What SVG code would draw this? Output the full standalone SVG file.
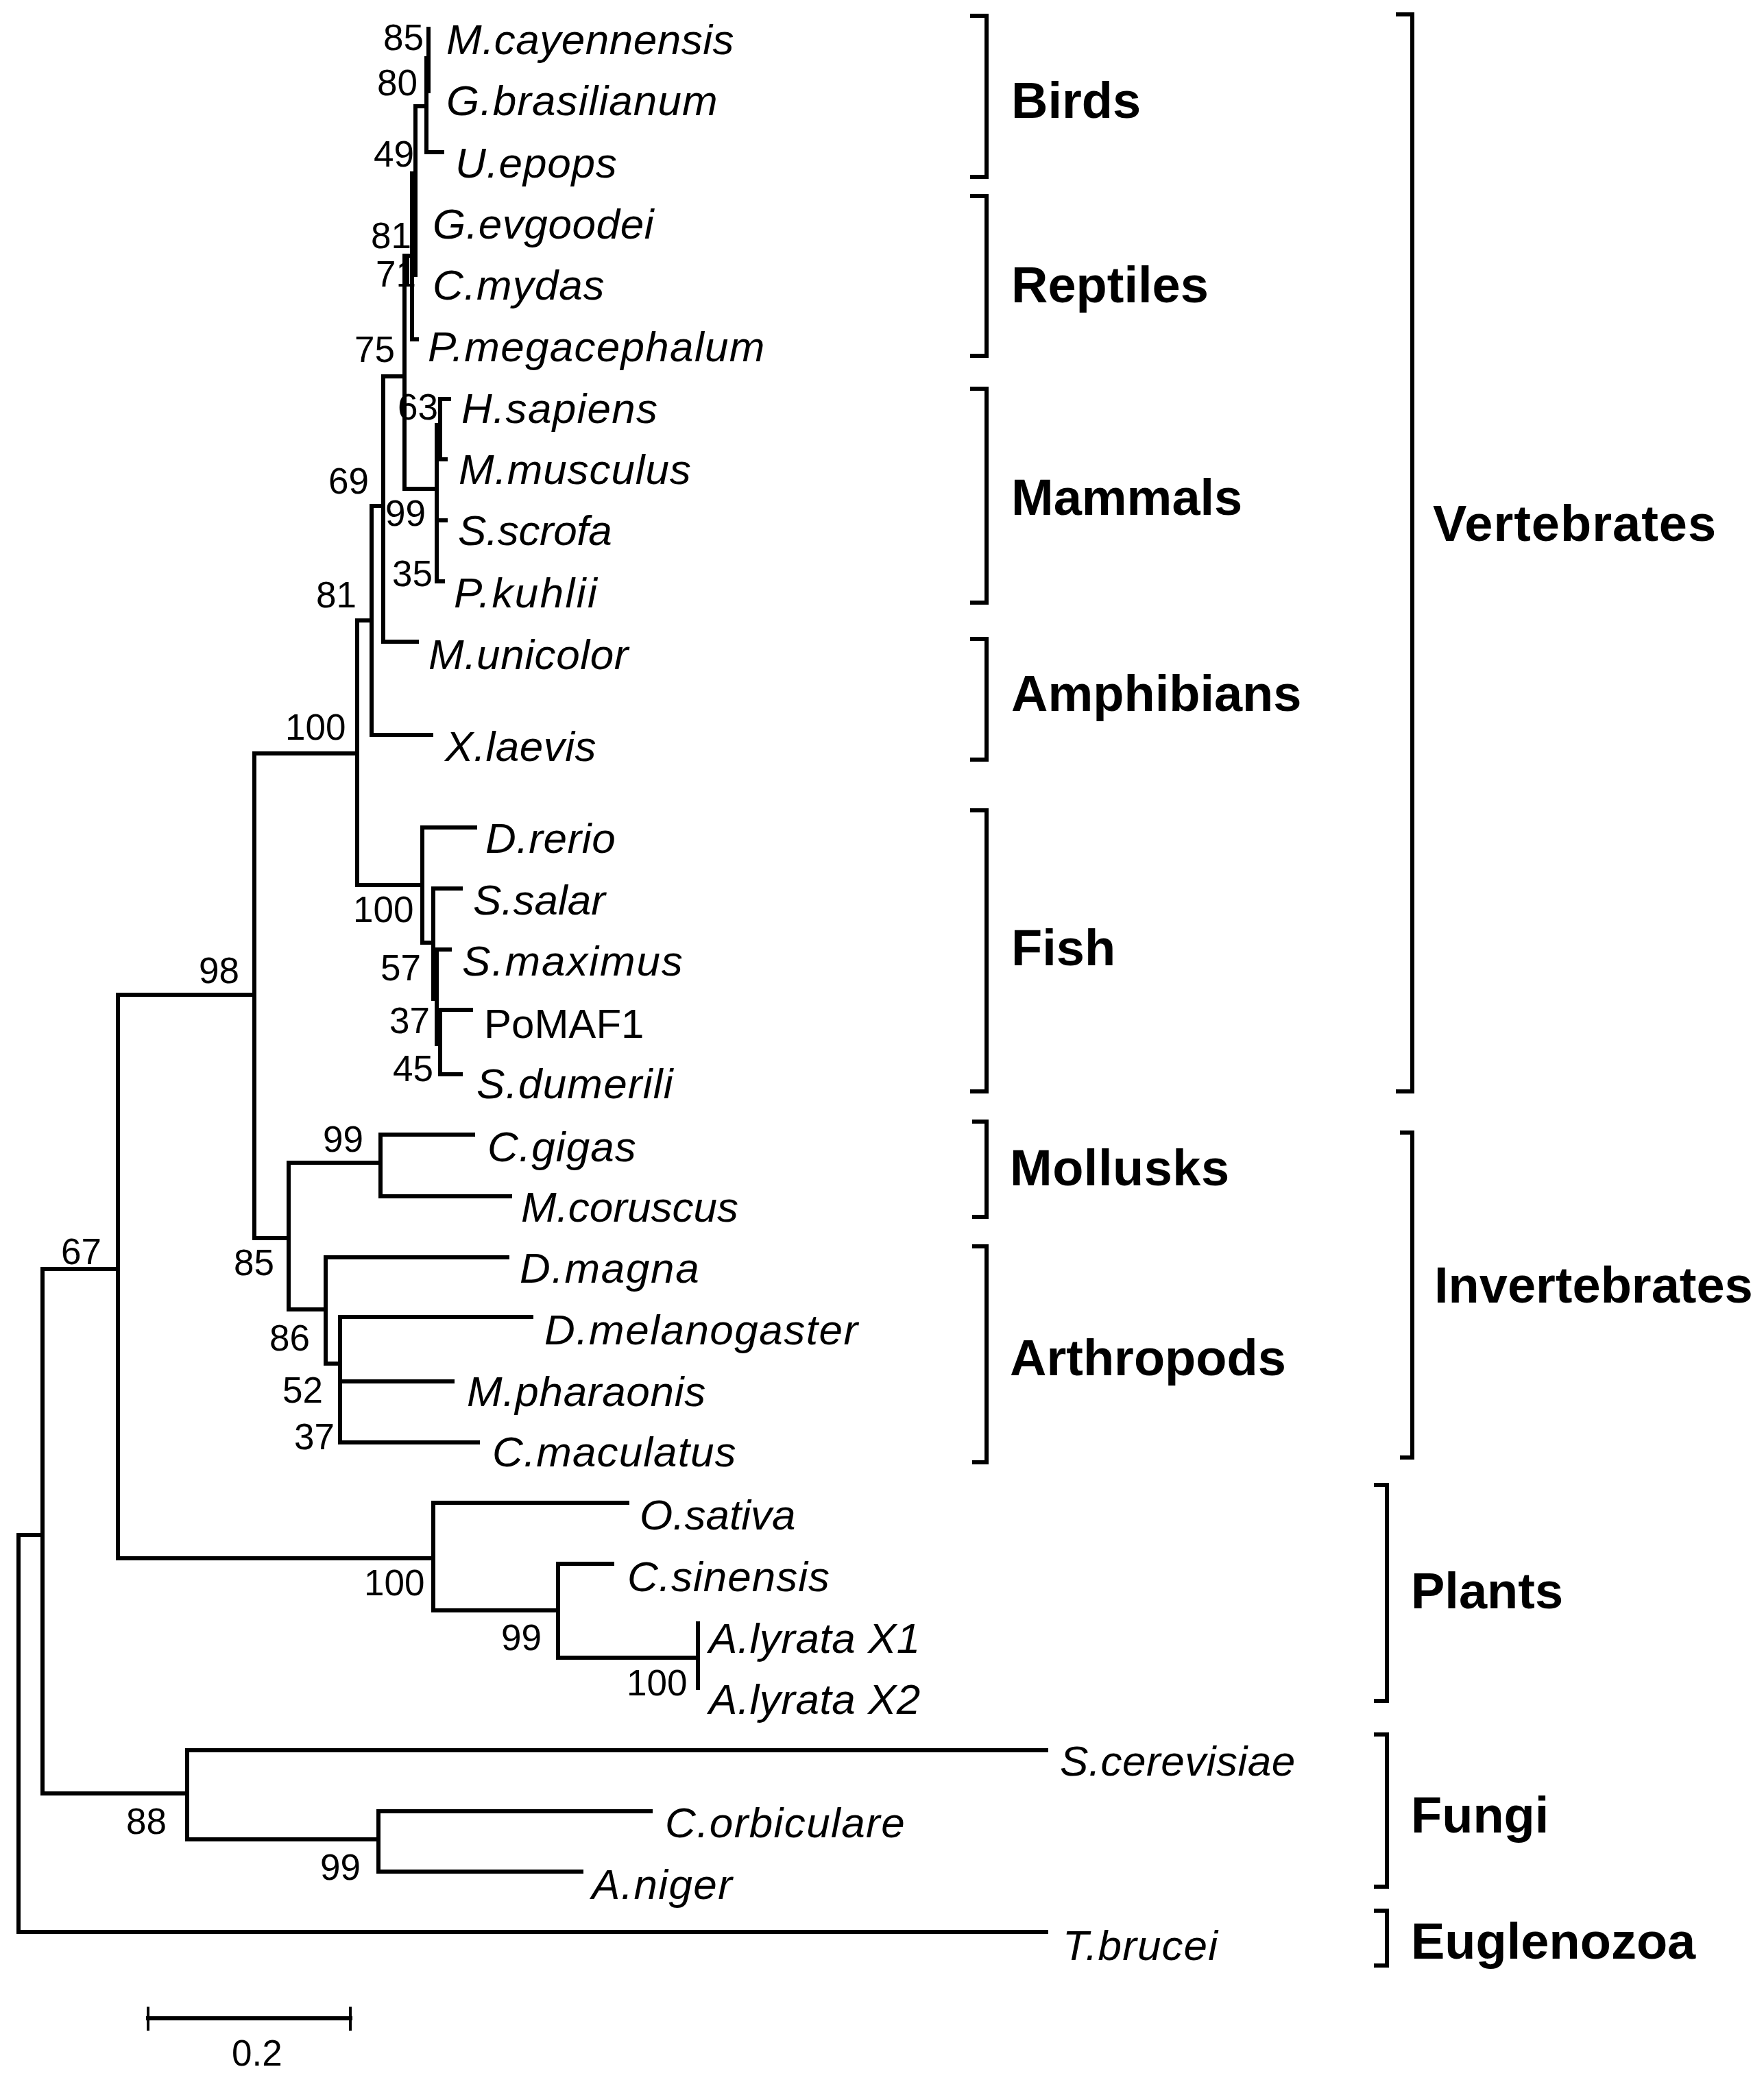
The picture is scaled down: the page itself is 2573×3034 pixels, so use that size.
<svg xmlns="http://www.w3.org/2000/svg" width="2573" height="3034" viewBox="0 0 2573 3034">
<style>
.br{stroke:#000;stroke-width:6;fill:none;stroke-linecap:square}
.th{stroke:#000;stroke-width:4;fill:none}
.bk{stroke:#000;stroke-width:6;fill:none}
.tx{font-family:"Liberation Sans",Arial,sans-serif;font-size:62px;font-style:italic;fill:#000}
.up{font-family:"Liberation Sans",Arial,sans-serif;font-size:60px;fill:#000}
.bs{font-family:"Liberation Sans",Arial,sans-serif;font-size:53px;fill:#000}
.gl{font-family:"Liberation Sans",Arial,sans-serif;font-size:74px;font-weight:bold;fill:#000}
</style>
<rect width="2573" height="3034" fill="#fff"/>
<g id="connectors">
<path class="br" d="M27,2239V2818H1526M27,2239H62"/>
<path class="br" d="M62,1851V2616M62,1851H172M62,2616H273"/>
<path class="br" d="M172,1451V2273M172,1451H371M172,2273H632"/>
<path class="br" d="M371,1099V1806M371,1099H521M371,1806H421"/>
<path class="br" d="M521,905V1291M521,905H542M521,1291H616"/>
<path class="br" d="M542,738V1072M542,738H559M542,1072H629"/>
<path class="br" d="M559,549V936M559,549H590M559,936H608"/>
<path class="br" d="M590,373V713M590,373H601M590,713H637"/>
<path class="th" d="M595,373V418"/>
<path class="br" d="M601,253V495H608"/>
<path class="br" d="M606,155V356M606,311V401"/>
<path class="br" d="M606,155H622M622,85V222H645"/>
<path class="br" d="M625,42V133"/>
<path class="br" d="M637,620V848M637,759H650M637,848H646M637,620H642"/>
<path class="br" d="M642,582V670H650M642,582H655"/>
<path class="br" d="M616,1207V1375M616,1207H693M616,1375H632"/>
<path class="br" d="M632,1296V1457M632,1296H672M632,1457H637"/>
<path class="br" d="M637,1385V1523M637,1385H656M637,1473H687"/>
<path class="br" d="M642,1473V1567H672"/>
<path class="br" d="M421,1696V1910M421,1696H555M421,1910H475"/>
<path class="br" d="M555,1655V1745M555,1655H690M555,1745H744"/>
<path class="br" d="M475,1834V1989M475,1834H740M475,1989H496"/>
<path class="br" d="M496,1921V2104M496,1921H775M496,2015H660M496,2104H697"/>
<path class="br" d="M632,2192V2349M632,2192H915M632,2349H814"/>
<path class="br" d="M814,2281V2418M814,2281H893M814,2418H1018"/>
<path class="br" d="M1018,2368V2462"/>
<path class="br" d="M273,2553V2683M273,2553H1526M273,2683H552"/>
<path class="br" d="M552,2642V2730M552,2642H949M552,2730H848"/>
<path class="br" d="M216,2944H511"/>
<path class="th" d="M216,2927V2962M511,2927V2962"/>
</g>
<g id="taxa">
<g id="t-mcay"><text class="tx" x="651" y="79" letter-spacing="0.5">M.cayennensis</text></g>
<g id="t-gbra"><text class="tx" x="651" y="168" letter-spacing="1.1">G.brasilianum</text></g>
<g id="t-uepo"><text class="tx" x="664" y="259" letter-spacing="0.8">U.epops</text></g>
<g id="t-gevg"><text class="tx" x="631" y="348" letter-spacing="0.6">G.evgoodei</text></g>
<g id="t-cmyd"><text class="tx" x="631" y="437" letter-spacing="1">C.mydas</text></g>
<g id="t-pmeg"><text class="tx" x="624" y="527" letter-spacing="1.3">P.megacephalum</text></g>
<g id="t-hsap"><text class="tx" x="673" y="617" letter-spacing="1.3">H.sapiens</text></g>
<g id="t-mmus"><text class="tx" x="669" y="706" letter-spacing="0.9">M.musculus</text></g>
<g id="t-sscr"><text class="tx" x="668" y="795" letter-spacing="-0.4">S.scrofa</text></g>
<g id="t-pkuh"><text class="tx" x="662" y="886" letter-spacing="2.4">P.kuhlii</text></g>
<g id="t-muni"><text class="tx" x="625" y="976" letter-spacing="0.6">M.unicolor</text></g>
<g id="t-xlae"><text class="tx" x="649" y="1110" letter-spacing="0.5">X.laevis</text></g>
<g id="t-drer"><text class="tx" x="708" y="1244" letter-spacing="0.6">D.rerio</text></g>
<g id="t-ssal"><text class="tx" x="690" y="1334">S.salar</text></g>
<g id="t-smax"><text class="tx" x="674" y="1423" letter-spacing="1.9">S.maximus</text></g>
<g id="t-pomaf1"><text class="up" x="706" y="1514">PoMAF1</text></g>
<g id="t-sdum"><text class="tx" x="695" y="1602" letter-spacing="1.2">S.dumerili</text></g>
<g id="t-cgig"><text class="tx" x="711" y="1694" letter-spacing="1.1">C.gigas</text></g>
<g id="t-mcor"><text class="tx" x="760" y="1782">M.coruscus</text></g>
<g id="t-dmag"><text class="tx" x="758" y="1871" letter-spacing="1.7">D.magna</text></g>
<g id="t-dmel"><text class="tx" x="794" y="1961" letter-spacing="1.5">D.melanogaster</text></g>
<g id="t-mpha"><text class="tx" x="681" y="2051" letter-spacing="0.7">M.pharaonis</text></g>
<g id="t-cmac"><text class="tx" x="718" y="2139" letter-spacing="1.1">C.maculatus</text></g>
<g id="t-osat"><text class="tx" x="933" y="2231">O.sativa</text></g>
<g id="t-csin"><text class="tx" x="915" y="2321" letter-spacing="1">C.sinensis</text></g>
<g id="t-aly1"><text class="tx" x="1034" y="2411" letter-spacing="0.5">A.lyrata X1</text></g>
<g id="t-aly2"><text class="tx" x="1034" y="2500" letter-spacing="0.5">A.lyrata X2</text></g>
<g id="t-scer"><text class="tx" x="1546" y="2590" letter-spacing="0.5">S.cerevisiae</text></g>
<g id="t-corb"><text class="tx" x="970" y="2680" letter-spacing="1.4">C.orbiculare</text></g>
<g id="t-anig"><text class="tx" x="863" y="2770" letter-spacing="1.4">A.niger</text></g>
<g id="t-tbru"><text class="tx" x="1550" y="2859" letter-spacing="1.1">T.brucei</text></g>
</g>
<g id="bootstrap">
<text class="bs" x="559" y="73">85</text>
<text class="bs" x="550" y="139">80</text>
<text class="bs" x="545" y="243">49</text>
<text class="bs" x="541" y="362">81</text>
<text class="bs" x="548" y="418">71</text>
<text class="bs" x="517" y="528">75</text>
<text class="bs" x="580" y="612">63</text>
<text class="bs" x="479" y="720">69</text>
<text class="bs" x="562" y="767">99</text>
<text class="bs" x="572" y="855">35</text>
<text class="bs" x="461" y="886">81</text>
<text class="bs" x="416" y="1079">100</text>
<text class="bs" x="515" y="1345">100</text>
<text class="bs" x="555" y="1430">57</text>
<text class="bs" x="568" y="1507">37</text>
<text class="bs" x="573" y="1577">45</text>
<text class="bs" x="290" y="1434">98</text>
<text class="bs" x="471" y="1680">99</text>
<text class="bs" x="341" y="1860">85</text>
<text class="bs" x="393" y="1970">86</text>
<text class="bs" x="412" y="2046">52</text>
<text class="bs" x="429" y="2114">37</text>
<text class="bs" x="89" y="1844">67</text>
<text class="bs" x="531" y="2327">100</text>
<text class="bs" x="731" y="2407">99</text>
<text class="bs" x="914" y="2473">100</text>
<text class="bs" x="184" y="2675">88</text>
<text class="bs" x="467" y="2742">99</text>
<text class="bs" x="338" y="3013">0.2</text>
</g>
<g id="clades">
<g id="c-birds"><path class="bk" d="M1415,23H1439V258H1415"/><text class="gl" x="1475" y="172">Birds</text></g>
<g id="c-reptiles"><path class="bk" d="M1415,286H1439V519H1415"/><text class="gl" x="1475" y="441">Reptiles</text></g>
<g id="c-mammals"><path class="bk" d="M1415,567H1439V879H1415"/><text class="gl" x="1475" y="751">Mammals</text></g>
<g id="c-amphibians"><path class="bk" d="M1415,932H1439V1108H1415"/><text class="gl" x="1475" y="1037">Amphibians</text></g>
<g id="c-fish"><path class="bk" d="M1415,1182H1439V1592H1415"/><text class="gl" x="1475" y="1408">Fish</text></g>
<g id="c-mollusks"><path class="bk" d="M1418,1636H1439V1775H1418"/><text class="gl" x="1473" y="1729" letter-spacing="0.5">Mollusks</text></g>
<g id="c-arthropods"><path class="bk" d="M1418,1818H1439V2133H1418"/><text class="gl" x="1473" y="2006">Arthropods</text></g>
<g id="c-vertebrates"><path class="bk" d="M2036,21H2060V1592H2036"/><text class="gl" x="2090" y="789" letter-spacing="1">Vertebrates</text></g>
<g id="c-invertebrates"><path class="bk" d="M2042,1652H2060V2126H2042"/><text class="gl" x="2092" y="1900">Invertebrates</text></g>
<g id="c-plants"><path class="bk" d="M2004,2166H2023V2481H2004"/><text class="gl" x="2058" y="2346">Plants</text></g>
<g id="c-fungi"><path class="bk" d="M2004,2530H2023V2752H2004"/><text class="gl" x="2058" y="2673">Fungi</text></g>
<g id="c-euglenozoa"><path class="bk" d="M2004,2787H2023V2867H2004"/><text class="gl" x="2058" y="2857">Euglenozoa</text></g>
</g>
</svg>
